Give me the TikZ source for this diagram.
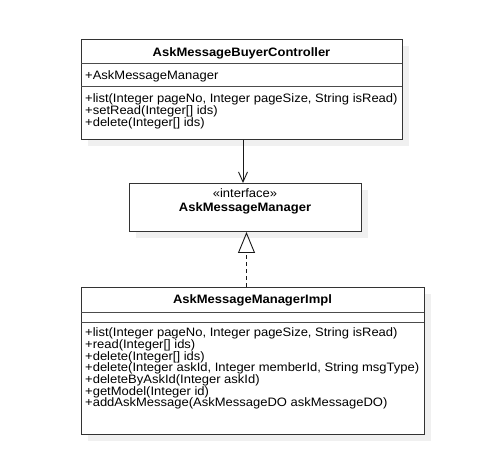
\documentclass[tikz,border=0pt]{standalone}
\usepackage{fontspec}
\setmainfont{Liberation Sans}[FakeStretch=1.065]
\usetikzlibrary{arrows.meta,shadows}
\begin{document}
\begin{tikzpicture}[x=1pt,y=-1pt,
  umlbox/.style={draw=black!80, line width=1pt, fill=white, inner sep=0pt, anchor=north west,
    drop shadow={shadow xshift=6.5pt, shadow yshift=-6.5pt, fill=black!6, opacity=1}},
  sep/.style={draw=black!70, line width=1pt},
  txt/.style={inner sep=0pt, anchor=base west, font=\fontsize{12.2}{13}\selectfont},
  ctxt/.style={inner sep=0pt, anchor=base, font=\fontsize{12.2}{13}\selectfont},
  btxt/.style={ctxt, font=\fontsize{12.2}{13}\selectfont\bfseries},
  conn/.style={draw=black!90, line width=0.9pt}]
\useasboundingbox[fill=white] (0,0) rectangle (496,476);

% Box 1
\node[umlbox, minimum width=321pt, minimum height=100pt] (b1) at (81,39) {};
\draw[sep] (81,64) -- (402,64);
\draw[sep] (81,87) -- (402,87);
\node[btxt] (b1t) at (241.5,56.5) {AskMessageBuyerController};
\node[txt] (b1a) at (85,79.5) {+AskMessageManager};
\node[txt] (b1m1) at (85,103) {+list(Integer pageNo, Integer pageSize, String isRead)};
\node[txt] (b1m2) at (85,114.6) {+setRead(Integer[] ids)};
\node[txt] (b1m3) at (85,126.2) {+delete(Integer[] ids)};

% Box 2
\node[umlbox, minimum width=232pt, minimum height=48pt] (b2) at (129,183) {};
\node[ctxt] (b2s) at (245,197.3) {«interface»};
\node[btxt] (b2t) at (245,212) {AskMessageManager};

% Box 3
\node[umlbox, minimum width=343pt, minimum height=147pt] (b3) at (81,287) {};
\draw[sep] (81,312) -- (424,312);
\draw[sep] (81,322) -- (424,322);
\node[btxt] (b3t) at (252.5,303.5) {AskMessageManagerImpl};
\node[txt] (m1) at (85,336.7) {+list(Integer pageNo, Integer pageSize, String isRead)};
\node[txt] (m2) at (85,348.4) {+read(Integer[] ids)};
\node[txt] (m3) at (85,360) {+delete(Integer[] ids)};
\node[txt] (m4) at (85,371.7) {+delete(Integer askId, Integer memberId, String msgType)};
\node[txt] (m5) at (85,383.4) {+deleteByAskId(Integer askId)};
\node[txt] (m6) at (85,395) {+getModel(Integer id)};
\node[txt] (m7) at (85,406.7) {+addAskMessage(AskMessageDO askMessageDO)};

% Connectors
\coordinate (c1) at (243,0);
\coordinate (c2) at (246.5,0);
\draw[conn, -{Straight Barb[length=10pt,width=9pt]}] (b1.south -| c1) -- (b2.north -| c1);
\draw[conn, dash pattern=on 4pt off 3pt, -{Triangle[open,length=21pt,width=17pt,line width=0.9pt]}] (b3.north -| c2) -- (b2.south -| c2);
\end{tikzpicture}
\end{document}
